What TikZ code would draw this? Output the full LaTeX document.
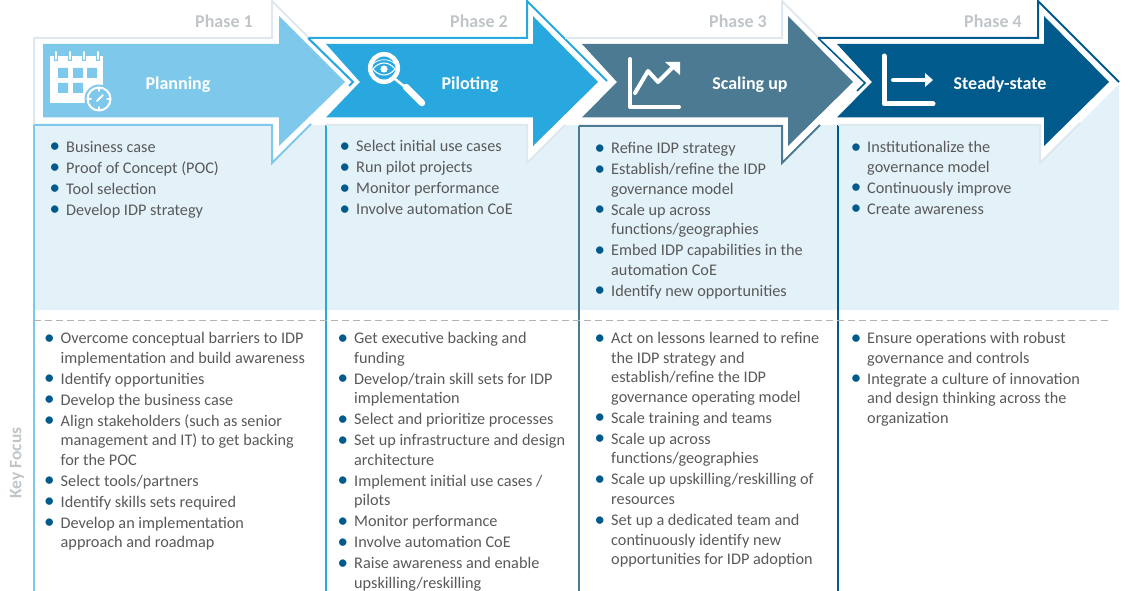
\documentclass[tikz,border=0pt]{standalone}
\usepackage{fontspec}
\setmainfont{Carlito}
\definecolor{planblue}{HTML}{7EC8EC}
\definecolor{pilotblue}{HTML}{29A8E0}
\definecolor{scalegrey}{HTML}{4C7A92}
\definecolor{steadyblue}{HTML}{005A8C}
\definecolor{edgegrey}{HTML}{DFE8EE}
\definecolor{panelblue}{HTML}{E3F1F9}
\definecolor{bodygrey}{HTML}{595959}
\definecolor{phasegrey}{HTML}{BFC5C9}
\newcommand{\itm}{\llap{\textcolor{steadyblue}{\fontsize{21}{0}\selectfont\raisebox{-0.6pt}{\textbullet}}\hspace{6pt}}}

\begin{document}
\begin{tikzpicture}[x=1pt,y=-1pt,
	every node/.style={inner sep=0pt},
	listtext/.style={anchor=north west,align=left,text=bodygrey,font=\fontsize{16.25}{19.6}\selectfont},
	phasetext/.style={text=phasegrey,font=\fontsize{18}{20}\selectfont\bfseries},
	titletext/.style={text=white,font=\fontsize{18}{20}\selectfont\bfseries},
	icon/.style={white,line width=4pt,line cap=round,line join=round}]
	\useasboundingbox (0,0) rectangle (1130,591);
	% panels
	\fill[panelblue] (34,125) -- (1040,125) -- (1040,163) -- (1119,84) -- (1119,310) -- (34,310) -- cycle;
	\draw[planblue,line width=2pt] (34,125) -- (34,591);
	\draw[pilotblue,line width=2pt] (326,125) -- (326,591);
	\draw[scalegrey,line width=2pt] (579,126) -- (579,591);
	\draw[steadyblue,line width=2pt] (838,125) -- (838,591);
	\draw[gray!60,dashed,dash pattern=on 7pt off 4pt,line width=1pt] (34,320) -- (1112,320);
	% white bands
	\fill[white] (820,38) -- (1038,38) -- (1038,0) -- (1120,82) -- (1040,163) -- (1040,125) -- (820,125) -- cycle;
	\fill[white] (565,38) -- (782,38) -- (782,0) -- (864,82) -- (782,163) -- (782,125) -- (565,125) -- cycle;
	\fill[white] (309,38) -- (527,38) -- (527,0) -- (608,82) -- (527,163) -- (527,125) -- (309,125) -- cycle;
	\fill[white] (34,38) -- (272,38) -- (272,0) -- (353,82) -- (272,163) -- (272,125) -- (34,125) -- cycle;
	% outlines
	\draw[edgegrey,line width=2pt] (34,125) -- (34,38) -- (272,38) -- (272,1) -- (352,81);
	\draw[planblue,line width=2pt] (34,125) -- (272,125) -- (272,163) -- (311,124);
	\draw[pilotblue,line width=2pt] (309,38) -- (527,38) -- (527,1) -- (607,81);
	\draw[pilotblue,line width=2pt] (308,38) -- (353,82) -- (349,86);
	\draw[edgegrey,line width=2pt] (326,125) -- (527,125) -- (527,163) -- (565,125);
	\draw[edgegrey,line width=2pt] (565,38) -- (782,38) -- (782,1) -- (862,81);
	\draw[scalegrey,line width=2pt] (579,126) -- (782,126) -- (782,163) -- (820,125);
	\draw[steadyblue,line width=2pt] (818,38) -- (1038,38) -- (1038,1) -- (1119,82);
	\draw[steadyblue,line width=1.5pt] (818,38) -- (865,83) -- (857,91);
	\draw[edgegrey,line width=2pt] (838,125) -- (1040,125) -- (1040,163) -- (1080,123);
	% arrows
	\fill[planblue] (43,44) -- (279,44) -- (279,16) -- (345,82) -- (279,146) -- (279,117.5) -- (43,117.5) -- cycle;
	\fill[pilotblue] (326,44) -- (533,44) -- (533,16) -- (598,82) -- (533,146) -- (533,117.5) -- (326,117.5) -- (360,82) -- cycle;
	\fill[scalegrey] (582,44) -- (788,44) -- (788,16) -- (853,82) -- (788,146) -- (788,117.5) -- (582,117.5) -- (617,82) -- cycle;
	\fill[steadyblue] (837,44) -- (1044,44) -- (1044,16) -- (1109,82) -- (1044,146) -- (1044,117.5) -- (837,117.5) -- (872,82) -- cycle;
	% calendar
	\fill[white] (50,56) rectangle (103,103);
	\draw[icon,line width=3.6pt,planblue,line cap=butt] (56,56) -- (56,61) (70,56) -- (70,61) (84,56) -- (84,61) (98,56) -- (98,61);
	\draw[icon,line width=2pt] (56,52) -- (56,59) (70,52) -- (70,59) (84,52) -- (84,59) (98,52) -- (98,59);
	\fill[planblue] (58,68) rectangle (68,78) (73,68) rectangle (83,78) (87,68) rectangle (97,78) (58,83) rectangle (68,93) (73,83) rectangle (83,93);
	\fill[planblue] (99,99) circle (14.5);
	\draw[white,fill=planblue,line width=2pt] (99,99) circle (11.5);
	\draw[white,line width=1.5pt,line cap=round] (99,88) -- (99,91) (99,107) -- (99,110) (88,99) -- (91,99) (107,99) -- (110,99);
	\draw[white,line width=2pt,line cap=round] (97,101) -- (103,95);
	% magnifier
	\draw[white,line width=4.5pt] (384,68) circle (13.8);
	\draw[white,line width=2.5pt,line cap=round] (395,79) -- (405,87);
	\draw[white,line width=6.5pt,line cap=round] (406,87) -- (422,103);
	\draw[white,line width=1.1pt] (373,69) .. controls (379,61) and (389,61) .. (395,69) .. controls (389,77) and (379,77) .. (373,69) -- cycle;
	\draw[white,line width=0.8pt] (372,65) .. controls (378,58) and (390,58) .. (396,65);
	\fill[white] (384,69) circle (3.6);
	% scaling chart
	\draw[icon] (630,59) -- (630,107) -- (679,107);
	\draw[icon] (635,93) -- (648,71) -- (658,82) -- (673,67);
	\fill[white] (665,62) -- (680,62) -- (680,75) -- cycle;
	% steady chart
	\draw[icon,line width=5pt] (884,56) -- (884,104) -- (933,104);
	\draw[icon] (893,80) -- (925,80);
	\fill[white] (925,73) -- (933,80) -- (925,87) -- cycle;
	% texts
	\node[phasetext] (phaseone) at (224,21) {Phase 1};
	\node[phasetext] (phasetwo) at (479,21) {Phase 2};
	\node[phasetext] (phasethree) at (738,21) {Phase 3};
	\node[phasetext] (phasefour) at (993,21) {Phase 4};
	\node[titletext] (planning) at (178,85) {Planning};
	\node[titletext] (piloting) at (470,85) {Piloting};
	\node[titletext] (scaling) at (750,85) {Scaling up};
	\node[titletext] (steady) at (1000,85) {Steady-state};
	\node[phasetext,rotate=90,font=\fontsize{17.5}{20}\selectfont\bfseries] (keyfocus) at (17,463) {Key Focus};
	\node[listtext] (topone) at (66,141) {\itm Business case\\[1.4pt]\itm Proof of Concept (POC)\\[1.4pt]\itm Tool selection\\[1.4pt]\itm Develop IDP strategy};
	\node[listtext] (toptwo) at (356,140) {\itm Select initial use cases\\[1.4pt]\itm Run pilot projects\\[1.4pt]\itm Monitor performance\\[1.4pt]\itm Involve automation CoE};
	\node[listtext] (topthree) at (611,142) {\itm Refine IDP strategy\\[1.4pt]\itm Establish/refine the IDP\\governance model\\[1.4pt]\itm Scale up across\\functions/geographies\\[1.4pt]\itm Embed IDP capabilities in the\\automation CoE\\[1.4pt]\itm Identify new opportunities};
	\node[listtext] (topfour) at (867,141) {\itm Institutionalize the\\governance model\\[1.4pt]\itm Continuously improve\\[1.4pt]\itm Create awareness};
	\node[listtext] (lowone) at (60.5,332) {\itm Overcome conceptual barriers to IDP\\implementation and build awareness\\[1.4pt]\itm Identify opportunities\\[1.4pt]\itm Develop the business case\\[1.4pt]\itm Align stakeholders (such as senior\\management and IT) to get backing\\for the POC\\[1.4pt]\itm Select tools/partners\\[1.4pt]\itm Identify skills sets required\\[1.4pt]\itm Develop an implementation\\approach and roadmap};
	\node[listtext] (lowtwo) at (354,332) {\itm Get executive backing and\\funding\\[1.4pt]\itm Develop/train skill sets for IDP\\implementation\\[1.4pt]\itm Select and prioritize processes\\[1.4pt]\itm Set up infrastructure and design\\architecture\\[1.4pt]\itm Implement initial use cases /\\pilots\\[1.4pt]\itm Monitor performance\\[1.4pt]\itm Involve automation CoE\\[1.4pt]\itm Raise awareness and enable\\upskilling/reskilling};
	\node[listtext] (lowthree) at (611,332) {\itm Act on lessons learned to refine\\the IDP strategy and\\establish/refine the IDP\\governance operating model\\[1.4pt]\itm Scale training and teams\\[1.4pt]\itm Scale up across\\functions/geographies\\[1.4pt]\itm Scale up upskilling/reskilling of\\resources\\[1.4pt]\itm Set up a dedicated team and\\continuously identify new\\opportunities for IDP adoption};
	\node[listtext] (lowfour) at (867,332) {\itm Ensure operations with robust\\governance and controls\\[1.4pt]\itm Integrate a culture of innovation\\and design thinking across the\\organization};
\end{tikzpicture}
\end{document}
